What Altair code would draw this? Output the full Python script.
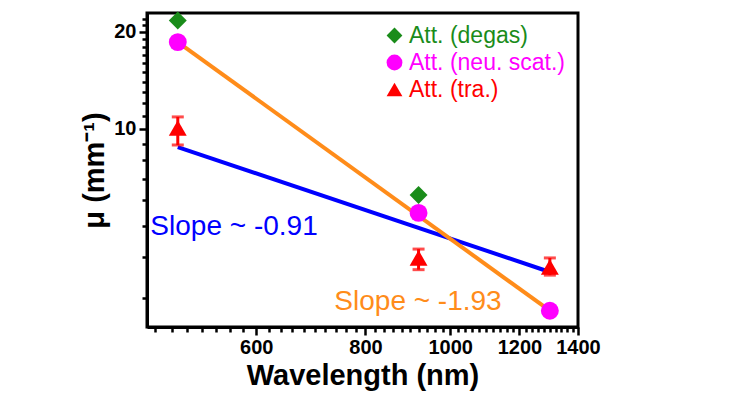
import altair as alt
import pandas as pd

# ---- data ----
wavelengths = [488, 920, 1300]
degas_wl = [488, 920]
degas_val = [21.7, 6.24]
neu_val = [18.6, 5.49, 2.73]
tra_val = [10.07, 3.98, 3.73]
tra_lo = [8.92, 3.66, 3.52]
tra_hi = [10.9, 4.24, 3.98]

fit_wl = [488, 1300]
fit_blue = [8.79, 3.60]     # slope ~ -0.91
fit_orange = [18.6, 2.73]   # slope ~ -1.93

series_names = ["Att. (degas)", "Att. (neu. scat.)", "Att. (tra.)"]
series_colors = ["#1a8c1a", "#ff00ff", "#ff0000"]
series_shapes = ["diamond", "circle", "triangle-up"]

notes_text = ["Slope ~ -0.91", "Slope ~ -1.93"]
notes_wl = [454, 737]
notes_val = [4.69, 2.745]
notes_color = ["#0000ff", "#ff8c1a"]

x_ticks = list(range(460, 1401, 20))
y_ticks = [3, 4, 5, 6, 7, 8, 9, 10, 11, 12, 13, 14, 15, 16, 17, 18, 19, 20, 21, 22]

# ---- tables ----
pts = pd.DataFrame(
    [{"series": series_names[0], "wl": w, "val": v} for w, v in zip(degas_wl, degas_val)]
    + [{"series": series_names[1], "wl": w, "val": v} for w, v in zip(wavelengths, neu_val)]
    + [{"series": series_names[2], "wl": w, "val": v} for w, v in zip(wavelengths, tra_val)]
)
err = pd.DataFrame({"wl": wavelengths, "lo": tra_lo, "hi": tra_hi})
blue = pd.DataFrame({"wl": fit_wl, "val": fit_blue})
orange = pd.DataFrame({"wl": fit_wl, "val": fit_orange})

FONT = "Liberation Sans"

xs = alt.Scale(type="log", domain=[450, 1400], nice=False, zero=False)
ys = alt.Scale(type="log", domain=[2.43, 22.9], nice=False, zero=False)

x_axis = alt.Axis(
    title="Wavelength (nm)",
    values=x_ticks,
    labelExpr="(datum.value % 200 == 0 && datum.value >= 600) ? format(datum.value, 'd') : ''",
    tickSize={"condition": {"test": "datum.value % 200 == 0 && datum.value >= 600", "value": 8}, "value": 5},
    labelOverlap=False,
    labelFlush=False,
    grid=False,
    labelPadding=2,
    titlePadding=4,
)
y_axis = alt.Axis(
    title="μ (mm⁻¹)",
    values=y_ticks,
    labelExpr="(datum.value == 10 || datum.value == 20) ? format(datum.value, 'd') : ''",
    tickSize={"condition": {"test": "datum.value == 10 || datum.value == 20", "value": 8}, "value": 5},
    labelOverlap=False,
    labelFlush=False,
    grid=False,
    labelPadding=3,
    titlePadding=4,
)

line_b = alt.Chart(blue).mark_line(color="#0000ff", strokeWidth=4).encode(
    x=alt.X("wl:Q", scale=xs, axis=x_axis),
    y=alt.Y("val:Q", scale=ys, axis=y_axis),
)
line_o = alt.Chart(orange).mark_line(color="#ff8c1a", strokeWidth=4).encode(
    x=alt.X("wl:Q", scale=xs),
    y=alt.Y("val:Q", scale=ys),
)

err_rule = alt.Chart(err).mark_rule(color="#ff0000", strokeWidth=3).encode(
    x=alt.X("wl:Q", scale=xs),
    y=alt.Y("lo:Q", scale=ys),
    y2="hi:Q",
)
cap_lo = alt.Chart(err).mark_tick(color="#ff0000", orient="horizontal", size=12, thickness=3).encode(
    x=alt.X("wl:Q", scale=xs),
    y=alt.Y("lo:Q", scale=ys),
)
cap_hi = alt.Chart(err).mark_tick(color="#ff0000", orient="horizontal", size=12, thickness=3).encode(
    x=alt.X("wl:Q", scale=xs),
    y=alt.Y("hi:Q", scale=ys),
)

label_color_expr = (
    f"datum.label == '{series_names[0]}' ? '{series_colors[0]}' : "
    f"(datum.label == '{series_names[2]}' ? '{series_colors[2]}' : '{series_colors[1]}')"
)

points = alt.Chart(pts).mark_point(filled=True, opacity=1, size=320).encode(
    x=alt.X("wl:Q", scale=xs),
    y=alt.Y("val:Q", scale=ys),
    color=alt.Color(
        "series:N",
        scale=alt.Scale(domain=series_names, range=series_colors),
        legend=alt.Legend(
            title=None,
            orient="none",
            legendX=236,
            legendY=11,
            labelFont=FONT,
            labelFontSize=23,
            labelColor=alt.ExprRef(label_color_expr),
            labelOffset=3,
            symbolSize=250,
            symbolStrokeWidth=0,
            rowPadding=3,
            labelLimit=400,
        ),
    ),
    shape=alt.Shape(
        "series:N",
        scale=alt.Scale(domain=series_names, range=series_shapes),
    ),
)

notes = pd.DataFrame({"t": notes_text, "wl": notes_wl, "val": notes_val, "c": notes_color})
text_b = alt.Chart(notes.iloc[[0]]).mark_text(
    color=notes_color[0], font=FONT, fontSize=28, align="left", baseline="alphabetic"
).encode(x=alt.X("wl:Q", scale=xs), y=alt.Y("val:Q", scale=ys), text="t:N")
text_o = alt.Chart(notes.iloc[[1]]).mark_text(
    color=notes_color[1], font=FONT, fontSize=28, align="left", baseline="alphabetic"
).encode(x=alt.X("wl:Q", scale=xs), y=alt.Y("val:Q", scale=ys), text="t:N")

chart = (
    alt.layer(line_b, line_o, err_rule, cap_lo, cap_hi, points, text_b, text_o)
    .properties(
        width=431,
        height=314,
        autosize=alt.AutoSizeParams(type="none"),
        padding={"left": 139, "top": 5, "right": 150, "bottom": 70},
        background="white",
    )
    .configure_view(stroke="black", strokeWidth=3)
    .configure_axis(
        labelFont=FONT,
        labelFontSize=20,
        labelFontWeight="bold",
        labelColor="black",
        titleFont=FONT,
        titleFontSize=29,
        titleFontWeight="bold",
        titleColor="black",
        domainColor="black",
        domainWidth=3,
        tickColor="black",
        tickWidth=2.5,
    )
)

chart.save("out.html", embed_options={"renderer": "svg", "actions": False})
